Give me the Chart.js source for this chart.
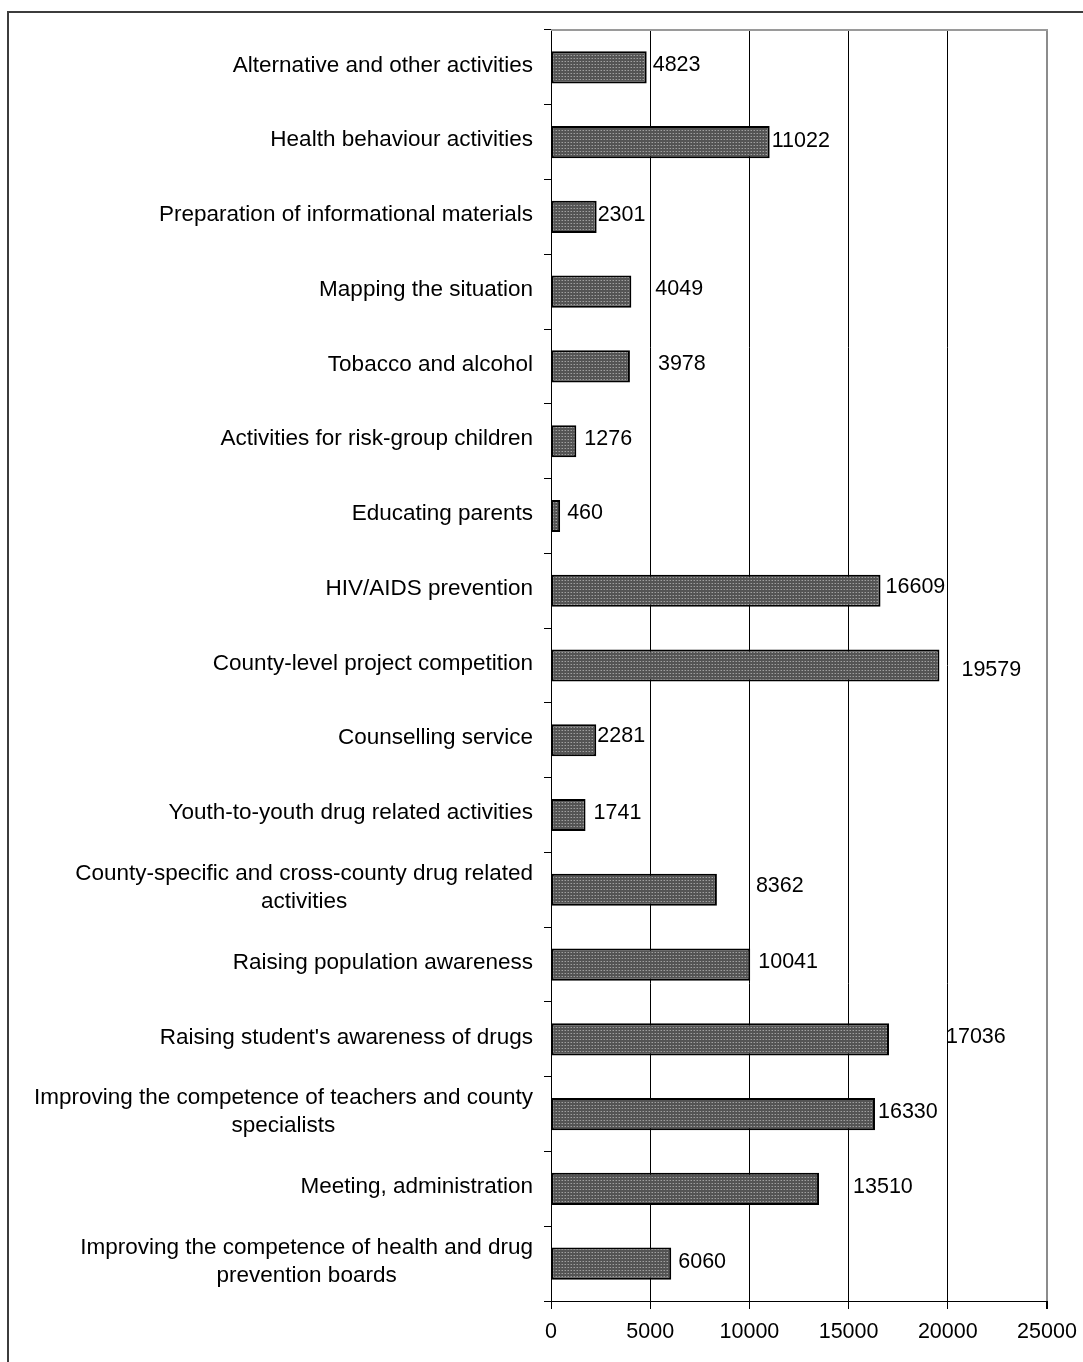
<!DOCTYPE html>
<html lang="en">
<head>
    <meta charset="UTF-8">
    <title>Activities chart</title>
    <script src="https://cdn.jsdelivr.net/npm/chart.js"></script>
    <style>
        html, body { margin: 0; padding: 0; background: #fff; overflow: hidden; }
        #wrap { position: relative; width: 1083px; height: 1362px; }
        #frame {
            position: absolute; left: 7px; top: 11px; width: 1100px; height: 1400px;
            border: 2px solid #3c3c3c; box-sizing: border-box; pointer-events: none;
        }
        canvas { position: absolute; left: 0; top: 0; }
    </style>
</head>
<body>
    <div id="wrap">
        <canvas id="chart" width="1083" height="1362"></canvas>
        <div id="frame"></div>
    </div>

    <script>
        // categories, top to bottom (long ones already split into lines)
        const categories = [
            'Alternative and other activities',
            'Health behaviour activities',
            'Preparation of informational materials',
            'Mapping the situation',
            'Tobacco and alcohol',
            'Activities for risk-group children',
            'Educating parents',
            'HIV/AIDS prevention',
            'County-level project competition',
            'Counselling service',
            'Youth-to-youth drug related activities',
            ['County-specific and cross-county drug related', 'activities'],
            'Raising population awareness',
            "Raising student's awareness of drugs",
            ['Improving the competence of teachers and county', 'specialists'],
            'Meeting, administration',
            ['Improving the competence of health and drug', 'prevention boards']
        ];
        const values = [4823, 11022, 2301, 4049, 3978, 1276, 460, 16609, 19579,
                        2281, 1741, 8362, 10041, 17036, 16330, 13510, 6060];
        const xTicks = [0, 5000, 10000, 15000, 20000, 25000];

        // value labels were nudged by hand in the original, gap from bar end (px)
        const labelGap = [6, 2, 1, 24, 28, 8, 7, 5, 22, 1, 8, 39, 8, 57, 3, 34, 7];
        const labelRise = [-2, -1, -2, -3, -2, -2, -3, -4, 5, -4, -2, -4, -2, -2, -2, -2, -2];

        const FONT = '"Liberation Sans", Arial, sans-serif';

        // dotted grey fill like the old office pattern
        function makePattern() {
            const c = document.createElement('canvas');
            c.width = 3; c.height = 3;
            const g = c.getContext('2d');
            g.fillStyle = '#545454';
            g.fillRect(0, 0, 3, 3);
            g.fillStyle = '#a0a0a0';
            g.fillRect(1, 1, 1, 1);
            g.fillStyle = '#777';
            g.fillRect(0, 1, 1, 1);
            return g.createPattern(c, 'repeat');
        }

        const frameLines = {
            id: 'frameLines',
            beforeDatasetsDraw(chart) {
                const { ctx, chartArea } = chart;
                ctx.save();
                ctx.strokeStyle = '#9a9a9a';
                ctx.lineWidth = 2;
                ctx.beginPath();
                ctx.moveTo(chartArea.left, chartArea.top);
                ctx.lineTo(chartArea.right + 1, chartArea.top);
                ctx.stroke();
                ctx.restore();
            }
        };

        // category labels: block right aligned, lines centred under each other
        const catLabels = {
            id: 'catLabels',
            afterDraw(chart) {
                const { ctx, chartArea } = chart;
                const yScale = chart.scales.y;
                const right = chartArea.left - 18;
                ctx.save();
                ctx.font = '22.5px ' + FONT;
                ctx.fillStyle = '#000';
                ctx.textAlign = 'center';
                ctx.textBaseline = 'middle';
                categories.forEach((lab, i) => {
                    const lines = Array.isArray(lab) ? lab : [lab];
                    const w = Math.max(...lines.map(s => ctx.measureText(s).width));
                    const cx = right - w / 2;
                    const yc = yScale.getPixelForValue(i) - 2;
                    lines.forEach((s, k) => {
                        ctx.fillText(s, cx, yc + (k - (lines.length - 1) / 2) * 28);
                    });
                });
                ctx.restore();
            }
        };

        const valueLabels = {
            id: 'valueLabels',
            afterDatasetsDraw(chart) {
                const { ctx } = chart;
                const meta = chart.getDatasetMeta(0);
                ctx.save();
                ctx.font = '21.5px ' + FONT;
                ctx.fillStyle = '#000';
                ctx.textAlign = 'left';
                ctx.textBaseline = 'middle';
                meta.data.forEach((bar, i) => {
                    ctx.fillText(String(values[i]), bar.x + labelGap[i], bar.y + labelRise[i]);
                });
                ctx.restore();
            }
        };

        new Chart(document.getElementById('chart'), {
            type: 'bar',
            data: {
                labels: categories,
                datasets: [{
                    data: values,
                    backgroundColor: makePattern(),
                    borderColor: '#000',
                    borderWidth: 2,
                    borderSkipped: false,
                    categoryPercentage: 1,
                    barPercentage: 0.43
                }]
            },
            options: {
                indexAxis: 'y',
                responsive: false,
                devicePixelRatio: 1,
                animation: false,
                layout: { padding: { top: 30, right: 36, left: 0, bottom: 0 } },
                plugins: {
                    legend: { display: false },
                    tooltip: { enabled: false }
                },
                scales: {
                    x: {
                        type: 'linear',
                        min: xTicks[0],
                        max: xTicks[xTicks.length - 1],
                        afterBuildTicks(scale) {
                            scale.ticks = xTicks.map(v => ({ value: v }));
                        },
                        afterFit(scale) {
                            scale.height = 61;
                            scale.paddingLeft = 0;
                            scale.paddingRight = 0;
                        },
                        ticks: {
                            color: '#000',
                            font: { family: FONT, size: 21.5 },
                            padding: 10,
                            maxRotation: 0,
                            callback: v => String(v)
                        },
                        grid: {
                            color: c => (c.tick && c.tick.value === 25000) ? '#8c8c8c' : '#000',
                            lineWidth: c => (c.tick && c.tick.value === 25000) ? 2 : 1,
                            tickColor: '#000',
                            tickLength: 8
                        },
                        border: { display: true, color: '#000', width: 1 }
                    },
                    y: {
                        type: 'category',
                        offset: true,
                        afterFit(scale) { scale.width = 551; },
                        ticks: { display: false },
                        grid: {
                            offset: true,
                            drawOnChartArea: false,
                            drawTicks: true,
                            tickLength: 7,
                            tickColor: '#000'
                        },
                        border: { display: true, color: '#000', width: 1 }
                    }
                }
            },
            plugins: [frameLines, catLabels, valueLabels]
        });
    </script>
</body>
</html>
